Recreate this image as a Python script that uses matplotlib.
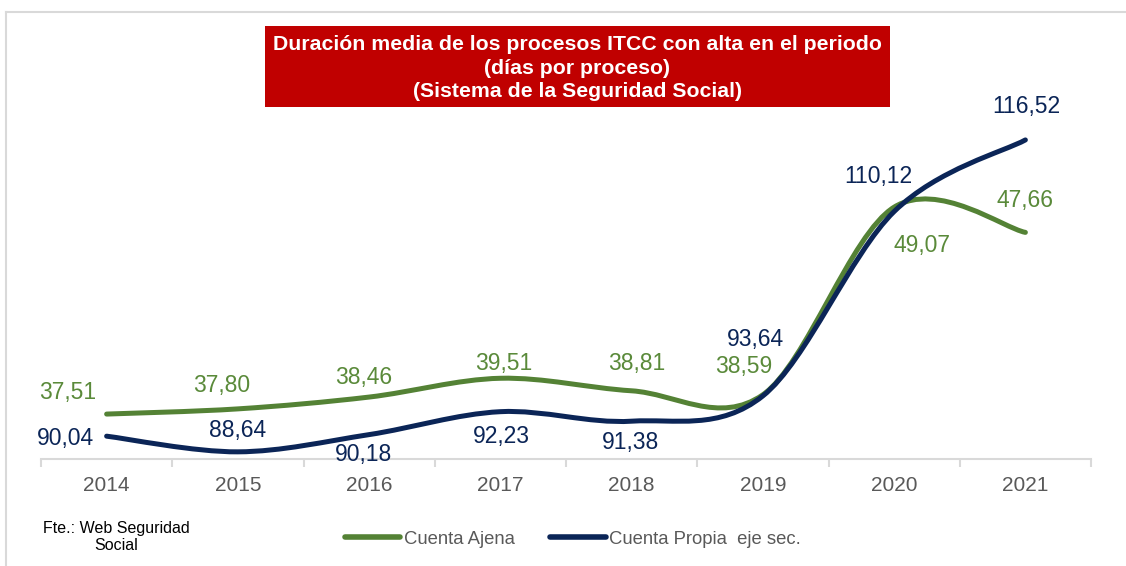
import numpy as np
import matplotlib.pyplot as plt
from matplotlib.path import Path
from matplotlib.patches import PathPatch, Rectangle
from matplotlib.lines import Line2D

plt.rcParams['font.family'] = ['Liberation Sans', 'DejaVu Sans']

years = ['2014', '2015', '2016', '2017', '2018', '2019', '2020', '2021']
cuenta_ajena = [37.51, 37.80, 38.46, 39.51, 38.81, 38.59, 49.07, 47.66]
cuenta_propia = [90.04, 88.64, 90.18, 92.23, 91.38, 93.64, 110.12, 116.52]

# label offsets in pixels (dx, dy)
off_ajena = [(-39, 22), (-16, 23), (-5, 20), (3, 15), (5, 27), (-19, 28), (28, -38), (0, 32)]
off_propia = [(-41, -2), (0, 21), (-6, -20), (1, -25), (-1, -21), (-7, 56), (-16, 35), (1, 33)]

GREEN = '#548235'
NAVY = '#0b2557'
GRAY = '#595959'


def smooth_path(x, y):
    # Excel-style smoothed line: cubic bezier, control points from neighbours
    n = len(x)
    pts = np.column_stack([x, y]).astype(float)
    verts = [pts[0]]
    codes = [Path.MOVETO]
    for i in range(n - 1):
        p0 = pts[max(i - 1, 0)]
        p1 = pts[i]
        p2 = pts[i + 1]
        p3 = pts[min(i + 2, n - 1)]
        c1 = p1 + (p2 - p0) / 6
        c2 = p2 - (p3 - p1) / 6
        verts += [c1, c2, p2]
        codes += [Path.CURVE4] * 3
    return Path(verts, codes)


def fmt(v):
    return f'{v:.2f}'.replace('.', ',')


fig = plt.figure(figsize=(11.26, 5.66), dpi=100)
W, H = 1126, 566
ax = fig.add_axes([41 / W, 1 - 459 / H, (1091 - 41) / W, (459 - 101) / H])
ax2 = ax.twinx()

x = np.arange(len(years))
ax.set_xlim(-0.5, len(years) - 0.5)
ax.set_ylim(35, 55)
ax2.set_ylim(88, 120)

ax.add_patch(PathPatch(smooth_path(x, cuenta_ajena), fill=False, edgecolor=GREEN,
                       lw=3.6, capstyle='round', joinstyle='round', zorder=3))
ax2.add_patch(PathPatch(smooth_path(x, cuenta_propia), fill=False, edgecolor=NAVY,
                        lw=3.6, capstyle='round', joinstyle='round', zorder=3))

for xi, v, (dx, dy) in zip(x, cuenta_ajena, off_ajena):
    ax.annotate(fmt(v), (xi, v), xytext=(dx, dy), textcoords='offset pixels',
                ha='center', va='center', fontsize=16.5, color='#5a8a3a')
for xi, v, (dx, dy) in zip(x, cuenta_propia, off_propia):
    ax2.annotate(fmt(v), (xi, v), xytext=(dx, dy), textcoords='offset pixels',
                 ha='center', va='center', fontsize=16.5, color=NAVY)

for a in (ax, ax2):
    for s in a.spines.values():
        s.set_visible(False)
    a.set_yticks([])
ax.spines['bottom'].set_visible(True)
ax.spines['bottom'].set_color('#d9d9d9')
ax.spines['bottom'].set_linewidth(1.5)
ax.set_xticks(x)
ax.set_xticklabels(years, fontsize=15, color=GRAY)
ax.tick_params(axis='x', which='major', length=0, pad=12)
ax.set_xticks(np.arange(-0.5, len(years)), minor=True)
ax.tick_params(axis='x', which='minor', length=6, color='#d9d9d9', width=1.5)

# frame
fig.add_artist(Line2D([6 / W, 6 / W], [0, 1 - 12 / H], color='#d9d9d9', lw=1.5))
fig.add_artist(Line2D([6 / W, 1], [1 - 12 / H, 1 - 12 / H], color='#d9d9d9', lw=1.5))

# title box
fig.add_artist(Rectangle((265 / W, 1 - 107 / H), (890 - 265) / W, 81 / H,
                         facecolor='#c00000', edgecolor='none'))
fig.text(577.5 / W, 1 - 68 / H,
         'Duración media de los procesos ITCC con alta en el periodo\n(días por proceso)\n(Sistema de la Seguridad Social)',
         ha='center', va='center', color='white', fontsize=15.3, fontweight='bold',
         linespacing=1.27)

fig.text(116 / W, 1 - 537 / H, 'Fte.: Web Seguridad\nSocial', ha='center', va='center',
         fontsize=11.5, color='black', linespacing=1.15)

handles = [Line2D([], [], color=GREEN, lw=4, solid_capstyle='round'),
           Line2D([], [], color=NAVY, lw=4, solid_capstyle='round')]
leg = fig.legend(handles, ['Cuenta Ajena', 'Cuenta Propia  eje sec.'], loc='center',
                 bbox_to_anchor=(573 / W, 1 - 539 / H), ncol=2, frameon=False,
                 fontsize=13.3, handlelength=3.0, handletextpad=0.2, columnspacing=1.9,
                 labelcolor=GRAY)

fig.savefig('out.png', dpi=100)
